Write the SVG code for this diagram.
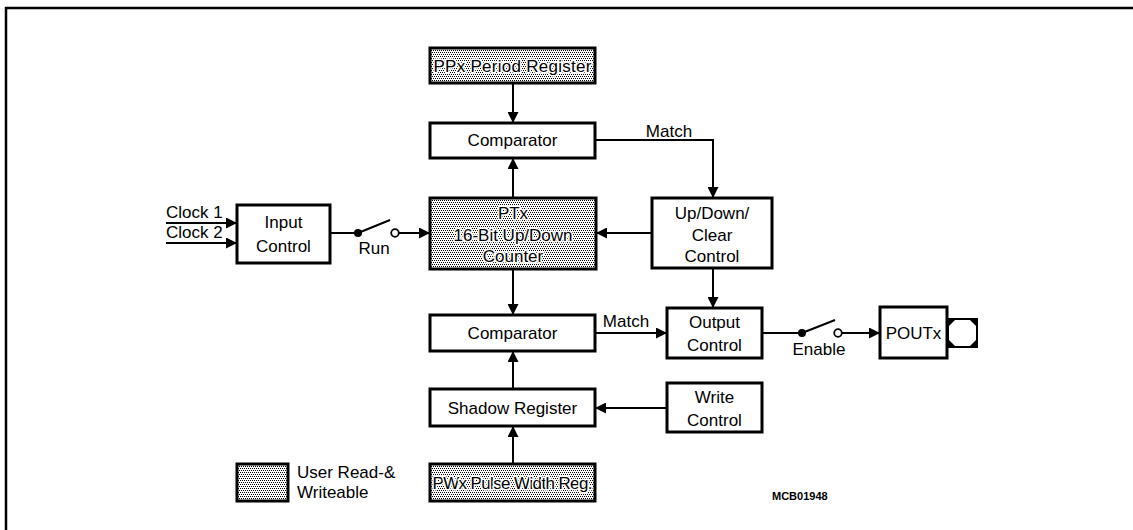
<svg xmlns="http://www.w3.org/2000/svg" width="1133" height="530" viewBox="0 0 1133 530">
<style>
.box{fill:#fff;stroke:#000;stroke-width:3}
.sh{fill:url(#dots);stroke:#000;stroke-width:3}
.t{font-family:"Liberation Sans",Arial,sans-serif;font-size:17px;fill:#000;text-anchor:middle}
.h{paint-order:stroke;stroke:#fff;stroke-width:3;stroke-linejoin:round}
.w{fill:none;stroke:#000;stroke-width:2}
.a{fill:none;stroke:#000;stroke-width:2;marker-end:url(#ah)}
</style>
<defs>
<pattern id="dots" width="4" height="4" patternUnits="userSpaceOnUse">
<rect width="4" height="4" fill="#fff"/>
<rect x="0" y="0" width="1" height="1" fill="#000"/>
<rect x="2" y="0" width="1" height="1" fill="#000"/>
<rect x="1" y="2" width="1" height="1" fill="#000"/>
<rect x="3" y="2" width="1" height="1" fill="#000"/>
</pattern>
<marker id="ah" markerUnits="userSpaceOnUse" markerWidth="11" markerHeight="11" refX="11" refY="5.5" orient="auto">
<path d="M0,0 L11,5.5 L0,11 z" fill="#000"/>
</marker>
</defs>
<rect width="1133" height="530" fill="#fff"/>
<path d="M6,530 V8 H1133" fill="none" stroke="#000" stroke-width="2.5"/>

<g id="connectors">
<line class="a" x1="166" y1="223" x2="237" y2="223"/>
<line class="a" x1="166" y1="243" x2="237" y2="243"/>
<line class="w" x1="330" y1="233" x2="358" y2="233"/>
<line class="w" x1="358" y1="233" x2="390" y2="220"/>
<circle cx="358" cy="233" r="4" fill="#000"/>
<circle cx="395" cy="233" r="3.8" fill="#fff" stroke="#000" stroke-width="1.8"/>
<line class="a" x1="399" y1="233" x2="430" y2="233"/>
<line class="a" x1="513" y1="83" x2="513" y2="123"/>
<line class="a" x1="513" y1="198" x2="513" y2="158"/>
<line class="a" x1="513" y1="269" x2="513" y2="315"/>
<line class="a" x1="513" y1="389" x2="513" y2="351"/>
<line class="a" x1="513" y1="464" x2="513" y2="426"/>
<polyline class="a" points="595,140 713,140 713,198"/>
<line class="a" x1="652" y1="233" x2="596" y2="233"/>
<line class="a" x1="713" y1="268" x2="713" y2="308"/>
<line class="a" x1="595" y1="333" x2="667" y2="333"/>
<line class="a" x1="667" y1="408" x2="595" y2="408"/>
<line class="w" x1="762" y1="333" x2="802" y2="333"/>
<line class="w" x1="802" y1="333" x2="835" y2="320"/>
<circle cx="802" cy="333" r="4" fill="#000"/>
<circle cx="838" cy="333" r="3.8" fill="#fff" stroke="#000" stroke-width="1.8"/>
<line class="a" x1="842" y1="333" x2="880" y2="333"/>
<text class="t" x="669" y="137">Match</text>
<text class="t" x="626" y="327">Match</text>
<text class="t" x="374" y="254">Run</text>
<text class="t" x="819" y="355">Enable</text>
<text class="t" x="166" y="218" style="text-anchor:start">Clock 1</text>
<text class="t" x="166" y="238" style="text-anchor:start">Clock 2</text>
</g>

<g id="ppx">
<rect class="sh" x="430" y="48" width="165" height="35"/>
<text class="t h" x="512.5" y="72" textLength="158" lengthAdjust="spacing">PPx Period Register</text>
</g>
<g id="comp-top">
<rect class="box" x="430" y="123" width="165" height="35"/>
<text class="t" x="512.5" y="146">Comparator</text>
</g>
<g id="input-control">
<rect class="box" x="237" y="205" width="93" height="58"/>
<text class="t" x="283.5" y="228">Input</text>
<text class="t" x="283.5" y="252">Control</text>
</g>
<g id="counter">
<rect class="sh" x="430" y="198" width="166" height="71"/>
<text class="t h" x="513" y="219">PTx</text>
<text class="t h" x="513" y="241">16-Bit Up/Down</text>
<text class="t h" x="513" y="262">Counter</text>
</g>
<g id="updown">
<rect class="box" x="652" y="198" width="120" height="70"/>
<text class="t" x="712" y="219">Up/Down/</text>
<text class="t" x="712" y="241">Clear</text>
<text class="t" x="712" y="262">Control</text>
</g>
<g id="comp-bottom">
<rect class="box" x="430" y="315" width="165" height="36"/>
<text class="t" x="512.5" y="339">Comparator</text>
</g>
<g id="output-control">
<rect class="box" x="667" y="308" width="95" height="50"/>
<text class="t" x="714.5" y="328">Output</text>
<text class="t" x="714.5" y="351">Control</text>
</g>
<g id="poutx">
<rect class="box" x="880" y="307" width="67" height="51"/>
<text class="t" x="913.5" y="339">POUTx</text>
<rect x="947" y="318" width="31" height="30" fill="#000"/>
<path d="M955,320 H970 L976,326 V340 L970,346 H955 L949,340 V326 Z" fill="#fff"/>
</g>
<g id="shadow">
<rect class="box" x="430" y="389" width="165" height="37"/>
<text class="t" x="512.5" y="414">Shadow Register</text>
</g>
<g id="write-control">
<rect class="box" x="667" y="383" width="95" height="49"/>
<text class="t" x="714.5" y="403">Write</text>
<text class="t" x="714.5" y="426">Control</text>
</g>
<g id="pwx">
<rect class="sh" x="430" y="464" width="165" height="37"/>
<text class="t h" x="512.5" y="489" textLength="160" lengthAdjust="spacing">PWx Pulse Width Reg.</text>
</g>
<g id="legend">
<rect class="sh" x="237" y="464" width="51" height="37"/>
<text class="t" x="297" y="478" style="text-anchor:start">User Read-&amp;</text>
<text class="t" x="297" y="498" style="text-anchor:start">Writeable</text>
</g>
<text x="772" y="500" style="font-family:'Liberation Sans',Arial,sans-serif;font-size:11px;font-weight:bold">MCB01948</text>
</svg>
